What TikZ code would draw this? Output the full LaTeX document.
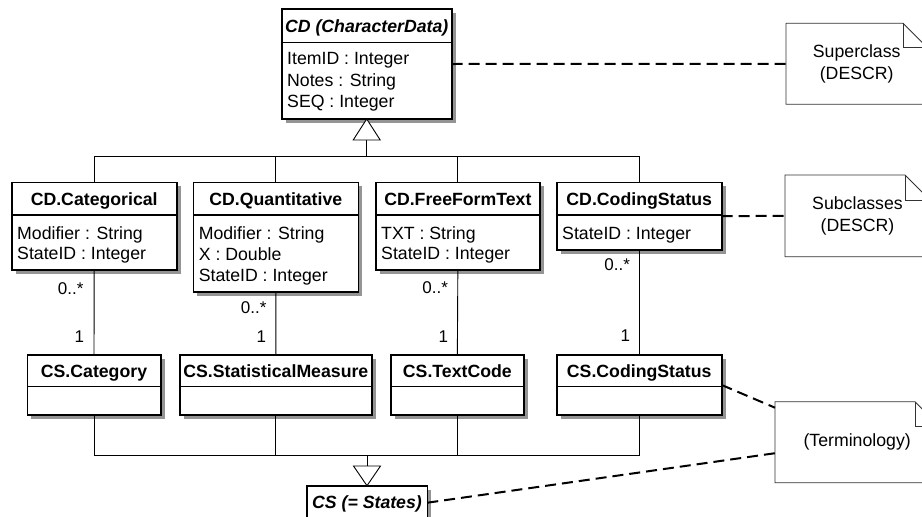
\documentclass[tikz,border=0pt]{standalone}
\usepackage{fontspec}
\setmainfont{Liberation Sans}
\usetikzlibrary{fit,calc}

% #1 name, #2 x1, #3 y1, #4 x2, #5 y of header line, #6 y2, #7 title
\newcommand\umlclass[7]{%
  \fill[shadowfill] (#2+4,#3+4) rectangle (#4+4,#6+4);
  \node[classbox, fit={(#2,#3)(#4,#6)}] (#1) {};
  \draw[headline] (#2,#5) -- (#4,#5);
  \node[titletext] (#1-t) at ({(#2+#4)/2},#5-9.5) {#7};
}
% #1 name, #2 x1, #3 y1, #4 x2, #5 y2, #6 fold, #7 text
\newcommand\umlnote[7]{%
  \node[fit={(#2,#3)(#4,#5)}] (#1) {};
  \draw[notebox] (#1.south west) -- (#1.north west) -- ($(#1.north east)+(-#6,0)$)
     -- ($(#1.north east)+(0,#6)$) -- (#1.south east) -- cycle;
  \draw[notebox, fill=none] ($(#1.north east)+(-#6,0)$) |- ($(#1.north east)+(0,#6)$);
  \node[notetext] (#1-t) at (#1.center) {#7};
}

\begin{document}
\begin{tikzpicture}[x=1pt,y=-1pt,
  every node/.style={font=\fontsize{17.7}{21}\selectfont, inner sep=0pt, outer sep=0pt},
  classbox/.style={draw=black, line width=1.6pt, fill=white},
  headline/.style={line width=1.3pt},
  shadowfill/.style={fill=black!42},
  conn/.style={line width=0.9pt},
  dashc/.style={line width=2pt, dash pattern=on 11pt off 6pt},
  notebox/.style={draw=black!80, line width=0.8pt, fill=white},
  notetext/.style={align=center, font=\fontsize{17.7}{22}\selectfont},
  titletext/.style={anchor=base, font=\fontsize{17.7}{21}\selectfont\bfseries},
  attr/.style={anchor=base west},
  mult/.style={anchor=base east, font=\fontsize{17}{20}\selectfont},
]
\useasboundingbox (0,0) rectangle (922,517);
\clip (0,0) rectangle (922,517);
\fill[white] (0,0) rectangle (922,517);

% ---- classes ----
\umlclass{cd}{281.7}{9}{451.7}{42.3}{119}{\textit{CD (CharacterData)}}
\node[attr] (cd-a1) at (287.2,64.3) {ItemID : Integer};
\node[attr] (cd-a2) at (287.2,86) {Notes : String};
\node[attr] (cd-a3) at (287.2,107.7) {SEQ : Integer};

\umlclass{cat}{11.7}{182.3}{176.7}{215}{270}{CD.Categorical}
\node[attr] (cat-a1) at (17.2,239) {Modifier : String};
\node[attr] (cat-a2) at (17.2,259.5) {StateID : Integer};

\umlclass{quant}{193.3}{182.3}{358.3}{215}{291.7}{CD.Quantitative}
\node[attr] (quant-a1) at (198.8,239) {Modifier : String};
\node[attr] (quant-a2) at (198.8,260) {X : Double};
\node[attr] (quant-a3) at (198.8,281) {StateID : Integer};

\umlclass{free}{375.7}{182.3}{540}{215}{270}{CD.FreeFormText}
\node[attr] (free-a1) at (381.2,239) {TXT : String};
\node[attr] (free-a2) at (381.2,259.5) {StateID : Integer};

\umlclass{cdcs}{556.7}{182.3}{721.7}{215}{250}{CD.CodingStatus}
\node[attr] (cdcs-a1) at (562.2,239) {StateID : Integer};

\umlclass{cscat}{27.3}{355}{160.7}{386.7}{415}{CS.Category}
\umlclass{csstat}{180}{355}{371.7}{386.7}{415}{CS.StatisticalMeasure}
\umlclass{cstext}{390.7}{355}{524}{386.7}{415}{CS.TextCode}
\umlclass{cscs}{556.7}{355}{721.7}{386.7}{415}{CS.CodingStatus}

\umlclass{cs}{306.7}{485.7}{427.3}{518.4}{560}{\textit{CS (= States)}}

% ---- notes ----
\umlnote{supnote}{786}{23.3}{927.4}{104.3}{24.4}{Superclass\\(DESCR)}
\umlnote{subnote}{785}{175}{930}{256.7}{25}{Subclasses\\(DESCR)}
\umlnote{term}{775}{401.7}{939.3}{482.7}{24.3}{(Terminology)}

% ---- generalization to CD ----
\coordinate (gtop) at (366.7,156);
\draw[conn] (cat.north) |- (cdcs.north |- gtop) -- (cdcs.north);
\draw[conn] (quant.north) -- (quant.north |- gtop);
\draw[conn] (free.north) -- (free.north |- gtop);
\draw[conn] (gtop) -- ($(cd.south)+(0,21)$);
\draw[conn, fill=white] (cd.south) -- ($(cd.south)+(-13.5,21)$) -- ($(cd.south)+(13.5,21)$) -- cycle;

% ---- associations ----
\draw[conn] (cat.south) -- (cscat.north);
\draw[conn] (quant.south) -- (csstat.north);
\draw[conn] (free.south) -- (cstext.north);
\draw[conn] (cdcs.south) -- (cscs.north);

\node[mult] (m1a) at (83.5,294) {0..*};
\node[mult] (m1b) at (84,342) {1};
\node[mult] (m2a) at (266.5,313.3) {0..*};
\node[mult] (m2b) at (266,342) {1};
\node[mult] (m3a) at (448,293.5) {0..*};
\node[mult] (m3b) at (448,342) {1};
\node[mult] (m4a) at (630,270) {0..*};
\node[mult] (m4b) at (630,341) {1};

% ---- generalization to CS ----
\coordinate (gbot) at (367,455);
\draw[conn] (cscat.south) |- (cscs.south |- gbot) -- (cscs.south);
\draw[conn] (csstat.south) -- (csstat.south |- gbot);
\draw[conn] (cstext.south) -- (cstext.south |- gbot);
\draw[conn] (gbot) -- ($(cs.north)+(0,-19.7)$);
\draw[conn, fill=white] (cs.north) -- ($(cs.north)+(-13.5,-19.7)$) -- ($(cs.north)+(13.5,-19.7)$) -- cycle;

% ---- note anchors ----
\draw[dashc] (cd.east) -- (supnote.west);
\draw[dashc] (cdcs.east) -- (subnote.west);
\draw[dashc] (cscs.east) -- ($(term.north west)+(0,6)$);
\draw[dashc] ($(cs.north east)+(0,17)$) -- ($(term.west)+(0,11)$);
\end{tikzpicture}
\end{document}
